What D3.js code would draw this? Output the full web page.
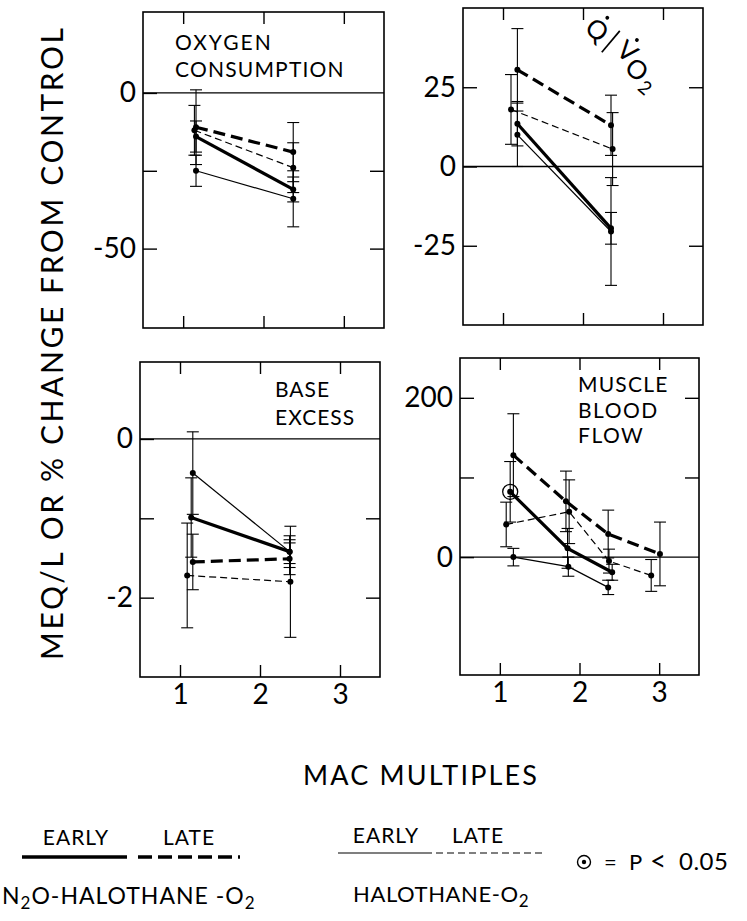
<!DOCTYPE html>
<html>
<head>
<meta charset="utf-8">
<script src="https://cdn.jsdelivr.net/npm/d3@7/dist/d3.min.js"></script>
<style>
body { margin: 0; background: #fff; }
text { font-family: Lato, "DejaVu Sans", sans-serif; fill: #000; }
</style>
</head>
<body>
<svg id="chart" width="747" height="921"></svg>
<script>
var macTicks = [1, 2, 3];

// oxygen consumption, % change from control
var o2N2oEarlyX = [1.16, 2.37], o2N2oEarly = [-14, -31], o2N2oEarlyErr = [5, 4];
var o2N2oLateX = [1.16, 2.37], o2N2oLate = [-11, -19], o2N2oLateErr = [12, 9.5];
var o2HaloEarlyX = [1.16, 2.37], o2HaloEarly = [-25, -34], o2HaloEarlyErr = [5, 9];
var o2HaloLateX = [1.14, 2.37], o2HaloLate = [-12, -24], o2HaloLateErr = [8, 8];

// Q/VO2, % change from control
var qvN2oEarlyX = [1.18, 2.35], qvN2oEarly = [13.5, -19.5], qvN2oEarlyErr = [7, 5];
var qvN2oLateX = [1.18, 2.35], qvN2oLate = [30.5, 13], qvN2oLateErr = [13, 9.5];
var qvHaloEarlyX = [1.18, 2.35], qvHaloEarly = [10, -20.5], qvHaloEarlyErr = [10, 17];
var qvHaloLateX = [1.1, 2.37], qvHaloLate = [18, 5.5], qvHaloLateErr = [11, 11.5];

// base excess, mEq/L
var beN2oEarlyX = [1.14, 2.37], beN2oEarly = [-0.99, -1.42], beN2oEarlyErr = [0.5, 0.15];
var beN2oLateX = [1.16, 2.37], beN2oLate = [-1.55, -1.51], beN2oLateErr = [0.35, 0.2];
var beHaloEarlyX = [1.16, 2.37], beHaloEarly = [-0.43, -1.42], beHaloEarlyErr = [0.52, 0.2];
var beHaloLateX = [1.09, 2.38], beHaloLate = [-1.72, -1.8], beHaloLateErr = [0.66, 0.7];

// muscle blood flow, % change from control
var mbN2oEarlyX = [1.13, 1.85, 2.41], mbN2oEarly = [82, 11, -19], mbN2oEarlyErr = [38, 25, 10];
var mbN2oLateX = [1.17, 1.83, 2.36, 3.01], mbN2oLate = [128, 70, 29, 4], mbN2oLateErr = [52, 38, 30, 40];
var mbHaloEarlyX = [1.17, 1.86, 2.36], mbHaloEarly = [0, -12, -38], mbHaloEarlyErr = [11, 12, 9];
var mbHaloLateX = [1.08, 1.87, 2.37, 2.9], mbHaloLate = [41, 57, -5, -23], mbHaloLateErr = [28, 40, 15, 20];
var mbSignificant = [0]; // index in mbN2oEarly with P < 0.05

var styles = {
    n2oEarly: { w: 3.2, dash: null },
    n2oLate: { w: 3.2, dash: "12,6" },
    haloEarly: { w: 1.2, dash: null },
    haloLate: { w: 1.2, dash: "7,4" }
};

function series(kind, xs, ys, es, sig) {
    return { kind: kind, x: xs, y: ys, e: es, sig: sig || [] };
}

var panels = [
    { left: 143, top: 12, w: 241, h: 316, dom: [-75.5, 26],
      leftTicks: [0, -25, -50], leftLabels: [0, -50], rightTicks: [-25, -50], xLabels: false,
      title: ["OXYGEN", "CONSUMPTION"], titleX: 175, titleY: [50, 77], titleLs: [2, 1.2],
      data: [series("haloEarly", o2HaloEarlyX, o2HaloEarly, o2HaloEarlyErr),
             series("haloLate", o2HaloLateX, o2HaloLate, o2HaloLateErr),
             series("n2oEarly", o2N2oEarlyX, o2N2oEarly, o2N2oEarlyErr),
             series("n2oLate", o2N2oLateX, o2N2oLate, o2N2oLateErr)] },
    { left: 463, top: 8, w: 240, h: 317, dom: [-50, 50],
      leftTicks: [25, 0, -25], leftLabels: [25, 0, -25], rightTicks: [25, -25], xLabels: false,
      title: null,
      data: [series("haloEarly", qvHaloEarlyX, qvHaloEarly, qvHaloEarlyErr),
             series("haloLate", qvHaloLateX, qvHaloLate, qvHaloLateErr),
             series("n2oEarly", qvN2oEarlyX, qvN2oEarly, qvN2oEarlyErr),
             series("n2oLate", qvN2oLateX, qvN2oLate, qvN2oLateErr)] },
    { left: 140, top: 362, w: 240, h: 315, dom: [-3, 0.97],
      leftTicks: [0, -1, -2], leftLabels: [0, -2], rightTicks: [-1, -2], xLabels: true,
      title: ["BASE", "EXCESS"], titleX: 275, titleY: [397, 425], titleLs: [1, 1],
      data: [series("haloEarly", beHaloEarlyX, beHaloEarly, beHaloEarlyErr),
             series("haloLate", beHaloLateX, beHaloLate, beHaloLateErr),
             series("n2oEarly", beN2oEarlyX, beN2oEarly, beN2oEarlyErr),
             series("n2oLate", beN2oLateX, beN2oLate, beN2oLateErr)] },
    { left: 460, top: 358, w: 239, h: 317, dom: [-148, 250],
      leftTicks: [200, 100, 0], leftLabels: [200, 0], rightTicks: [200, 100], xLabels: true,
      title: ["MUSCLE", "BLOOD", "FLOW"], titleX: 578, titleY: [392, 418, 443], titleLs: [1.2, 1.5, 1.5],
      data: [series("haloEarly", mbHaloEarlyX, mbHaloEarly, mbHaloEarlyErr),
             series("haloLate", mbHaloLateX, mbHaloLate, mbHaloLateErr),
             series("n2oEarly", mbN2oEarlyX, mbN2oEarly, mbN2oEarlyErr, mbSignificant),
             series("n2oLate", mbN2oLateX, mbN2oLate, mbN2oLateErr)] }
];

var svg = d3.select("#chart");
var font = "Lato, 'DejaVu Sans', sans-serif";

function fmt(d) { return d < 0 ? "-" + Math.abs(d) : String(d); }

function styleAxis(g, size) {
    g.select(".domain").remove();
    g.attr("font-family", font).attr("font-size", size);
    g.selectAll("line").attr("stroke", "#000").attr("stroke-width", 1.4);
}

panels.forEach(function (p) {
    var x = d3.scaleLinear().domain([0.5, 3.5]).range([0, p.w]);
    var y = d3.scaleLinear().domain(p.dom).range([p.h, 0]);
    var g = svg.append("g").attr("transform", "translate(" + p.left + "," + p.top + ")");

    g.append("rect")
        .attr("width", p.w).attr("height", p.h)
        .attr("fill", "none").attr("stroke", "#000").attr("stroke-width", 1.6);

    g.append("line")
        .attr("x1", 0).attr("x2", p.w)
        .attr("y1", y(0)).attr("y2", y(0))
        .attr("stroke", "#000").attr("stroke-width", 1.3);

    g.append("g")
        .call(d3.axisLeft(y).tickValues(p.leftTicks).tickSize(-14).tickPadding(7)
            .tickFormat(function (d) { return p.leftLabels.indexOf(d) >= 0 ? fmt(d) : ""; }))
        .call(styleAxis, 28);

    g.append("g").attr("transform", "translate(" + p.w + ",0)")
        .call(d3.axisRight(y).tickValues(p.rightTicks).tickSize(-14).tickFormat(""))
        .call(styleAxis, 10);

    g.append("g")
        .call(d3.axisTop(x).tickValues(macTicks).tickSize(-12).tickFormat(""))
        .call(styleAxis, 10);

    g.append("g").attr("transform", "translate(0," + p.h + ")")
        .call(d3.axisBottom(x).tickValues(macTicks).tickSize(-12).tickPadding(7)
            .tickFormat(function (d) { return p.xLabels ? d : ""; }))
        .call(styleAxis, 28);

    p.data.forEach(function (s) {
        var st = styles[s.kind];
        var pts = s.x.map(function (v, i) { return { x: v, y: s.y[i], e: s.e[i], i: i }; });

        var bars = g.append("g").attr("stroke", "#000").attr("stroke-width", 1.1);
        bars.selectAll("line.v").data(pts).enter().append("line")
            .attr("x1", function (d) { return x(d.x); }).attr("x2", function (d) { return x(d.x); })
            .attr("y1", function (d) { return y(d.y - d.e); }).attr("y2", function (d) { return y(d.y + d.e); });
        [-1, 1].forEach(function (sgn) {
            bars.selectAll("line.c" + sgn).data(pts).enter().append("line")
                .attr("x1", function (d) { return x(d.x) - 6; }).attr("x2", function (d) { return x(d.x) + 6; })
                .attr("y1", function (d) { return y(d.y + sgn * d.e); })
                .attr("y2", function (d) { return y(d.y + sgn * d.e); });
        });

        g.append("path").datum(pts)
            .attr("d", d3.line().x(function (d) { return x(d.x); }).y(function (d) { return y(d.y); }))
            .attr("fill", "none").attr("stroke", "#000")
            .attr("stroke-width", st.w).attr("stroke-dasharray", st.dash);

        g.selectAll(null).data(pts).enter().append("circle")
            .attr("cx", function (d) { return x(d.x); }).attr("cy", function (d) { return y(d.y); })
            .attr("r", 3).attr("fill", "#000");

        g.selectAll(null).data(pts.filter(function (d) { return s.sig.indexOf(d.i) >= 0; }))
            .enter().append("circle")
            .attr("cx", function (d) { return x(d.x); }).attr("cy", function (d) { return y(d.y); })
            .attr("r", 7.5).attr("fill", "none")
            .attr("stroke", "#000").attr("stroke-width", 1.3);
    });

    if (p.title) {
        p.title.forEach(function (t, i) {
            svg.append("text").attr("x", p.titleX).attr("y", p.titleY[i])
                .attr("font-size", 21).attr("letter-spacing", p.titleLs[i])
                .text(t);
        });
    }
});

// Q-dot / V-dot O2 label, set on a slant
var ql = svg.append("g").attr("transform", "translate(597,30) rotate(40)");
ql.append("text").attr("x", 0).attr("y", 9).attr("text-anchor", "middle").attr("font-size", 26).text("Q");
ql.append("circle").attr("cx", 0).attr("cy", -16).attr("r", 1.9).attr("fill", "#000");
ql.append("line").attr("x1", 18).attr("x2", 18).attr("y1", -14).attr("y2", 14)
    .attr("stroke", "#000").attr("stroke-width", 1.7);
ql.append("text").attr("x", 37).attr("y", 6).attr("text-anchor", "middle").attr("font-size", 26).text("V");
ql.append("circle").attr("cx", 37).attr("cy", -18).attr("r", 1.9).attr("fill", "#000");
ql.append("text").attr("x", 56).attr("y", 14).attr("text-anchor", "middle").attr("font-size", 26).text("O");
ql.append("text").attr("x", 74).attr("y", 20).attr("text-anchor", "middle").attr("font-size", 19).text("2");

// axis titles
svg.append("text")
    .attr("transform", "translate(63,344) rotate(-90)")
    .attr("text-anchor", "middle").attr("font-size", 30)
    .attr("textLength", 632).attr("lengthAdjust", "spacing")
    .text("MEQ/L OR % CHANGE FROM CONTROL");

svg.append("text")
    .attr("x", 303).attr("y", 785).attr("font-size", 27)
    .attr("textLength", 234).attr("lengthAdjust", "spacing")
    .text("MAC MULTIPLES");

// legend
var leg = svg.append("g");
leg.append("text").attr("x", 76).attr("y", 845).attr("text-anchor", "middle").attr("font-size", 21).attr("letter-spacing", 1).text("EARLY");
leg.append("text").attr("x", 189).attr("y", 845).attr("text-anchor", "middle").attr("font-size", 21).attr("letter-spacing", 1).text("LATE");
leg.append("line").attr("x1", 22).attr("x2", 127).attr("y1", 857).attr("y2", 857)
    .attr("stroke", "#000").attr("stroke-width", styles.n2oEarly.w + 0.4);
leg.append("line").attr("x1", 138).attr("x2", 240).attr("y1", 857).attr("y2", 857)
    .attr("stroke", "#000").attr("stroke-width", styles.n2oLate.w + 0.4).attr("stroke-dasharray", "14,6");
var n2o = leg.append("text").attr("x", 2).attr("y", 904).attr("font-size", 23).attr("letter-spacing", 1);
n2o.append("tspan").text("N");
n2o.append("tspan").attr("font-size", 17).attr("dy", 5).text("2");
n2o.append("tspan").attr("dy", -5).text("O-HALOTHANE -O");
n2o.append("tspan").attr("font-size", 17).attr("dy", 5).text("2");

leg.append("text").attr("x", 386).attr("y", 843).attr("text-anchor", "middle").attr("font-size", 21).attr("letter-spacing", 1).text("EARLY");
leg.append("text").attr("x", 478).attr("y", 843).attr("text-anchor", "middle").attr("font-size", 21).attr("letter-spacing", 1).text("LATE");
leg.append("line").attr("x1", 338).attr("x2", 432).attr("y1", 853).attr("y2", 853)
    .attr("stroke", "#000").attr("stroke-width", styles.haloEarly.w);
leg.append("line").attr("x1", 436).attr("x2", 545).attr("y1", 853).attr("y2", 853)
    .attr("stroke", "#000").attr("stroke-width", styles.haloLate.w).attr("stroke-dasharray", "7,4");
var halo = leg.append("text").attr("x", 353).attr("y", 902).attr("font-size", 22).attr("letter-spacing", 0.6);
halo.append("tspan").text("HALOTHANE-O");
halo.append("tspan").attr("font-size", 17).attr("dy", 5).text("2");

leg.append("circle").attr("cx", 584).attr("cy", 862).attr("r", 6.5)
    .attr("fill", "none").attr("stroke", "#000").attr("stroke-width", 1.4);
leg.append("circle").attr("cx", 584).attr("cy", 862).attr("r", 2.2).attr("fill", "#000");
leg.append("text").attr("x", 604).attr("y", 870).attr("font-size", 22).text("=");
leg.append("text").attr("x", 629).attr("y", 870).attr("font-size", 22).text("P");
leg.append("text").attr("x", 650).attr("y", 871).attr("font-size", 28).text("<");
leg.append("text").attr("x", 679).attr("y", 870).attr("font-size", 24).attr("letter-spacing", 0.5).text("0.05");
</script>
</body>
</html>
